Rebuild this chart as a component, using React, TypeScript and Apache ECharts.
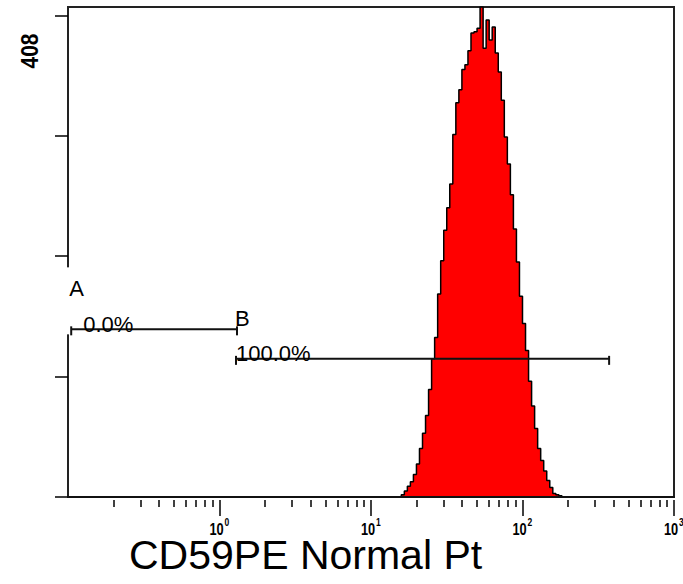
import React, { useEffect, useRef } from 'react';
import * as echarts from 'echarts';

// ---- data ----
const TITLE = 'CD59PE Normal Pt';
const X_MIN_LOG = -1;
const X_MAX_LOG = 3;
const X_MAJOR = [0, 1, 2, 3];
const X_MINOR_MULT = [2, 3, 4, 5, 6, 7, 8, 9];
const X_LABEL_BASE = '10';
const Y_MAX = 415;
const Y_TICKS = [0, 102, 204, 306, 408];
const Y_LABEL = 408;

// histogram: bin centres in log10 units starting at HIST_START, step HIST_STEP
const HIST_START = 1.19;
const HIST_STEP = 0.02;
const COUNTS = [
  0, 2, 5, 9, 13, 19, 28, 41, 54, 69, 91, 117, 135, 172, 200, 226, 245, 265, 307, 334,
  345, 362, 366, 378, 393, 394, 397, 415, 380, 404, 387, 398, 376, 360, 336, 305, 282, 256,
  227, 199, 170, 147, 124, 98, 77, 58, 41, 31, 22, 14, 8, 3, 2, 1, 0,
];

const GATE_NAMES = ['A', 'B'];
const GATE_START = [0.105, 1.285];
const GATE_END = [1.305, 373];
const GATE_LEVEL = [142, 117];
const GATE_PCT = ['0.0%', '100.0%'];

// ---- layout / style (not data) ----
const FONT = "'Liberation Sans', Arial, 'DejaVu Sans', sans-serif";
const GATE_LAYOUT = [
  { nameDx: -2, nameDy: 30, pctDx: 12, borderGap: true },
  { nameDx: -1, nameDy: 29, pctDx: 0, borderGap: false },
];

const X_MINOR: number[] = [];
for (let n = X_MIN_LOG; n < X_MAX_LOG; n++) {
  for (const k of X_MINOR_MULT) X_MINOR.push(n + Math.log10(k));
}

export default function App() {
  const ref = useRef<HTMLDivElement>(null);
  useEffect(() => {
    if (!ref.current) return;
    const chart = echarts.init(ref.current, undefined, { renderer: 'svg' });
    const histData = COUNTS.map((c, i) => [HIST_START + i * HIST_STEP, c]);
    const gateData = GATE_NAMES.map((_, i) => [
      Math.log10(GATE_START[i]),
      Math.log10(GATE_END[i]),
      GATE_LEVEL[i],
    ]);
    const labelData = X_MAJOR.map((v) => [v, 0]);
    const baseX = { type: 'value', min: X_MIN_LOG, max: X_MAX_LOG, position: 'bottom', splitLine: { show: false } };
    chart.setOption({
      animation: false,
      backgroundColor: '#fff',
      title: {
        text: TITLE,
        left: 129,
        top: 534,
        padding: 0,
        textStyle: { fontFamily: FONT, fontSize: 41, fontWeight: 'normal', color: '#000' },
      },
      grid: {
        left: 68,
        right: 9,
        top: 7,
        bottom: 87,
        show: true,
        borderColor: '#222',
        borderWidth: 2,
        backgroundColor: 'transparent',
      },
      xAxis: [
        {
          ...baseX,
          axisLine: { show: true, onZero: false, lineStyle: { color: '#111', width: 2 } },
          axisTick: { show: false },
          axisLabel: { show: false },
          z: 10,
        },
        {
          ...baseX,
          offset: 3,
          axisLine: { show: false, onZero: false },
          axisTick: { show: true, customValues: X_MAJOR, length: 16, lineStyle: { color: '#000', width: 1.5 } },
          axisLabel: { show: false },
        },
        {
          ...baseX,
          offset: 3,
          axisLine: { show: false, onZero: false },
          axisTick: { show: true, customValues: X_MINOR, length: 7, lineStyle: { color: '#000', width: 1.5 } },
          axisLabel: { show: false },
        },
      ],
      yAxis: {
        type: 'value',
        min: 0,
        max: Y_MAX,
        position: 'left',
        axisLine: { show: false, onZero: false },
        axisTick: { show: true, customValues: Y_TICKS, length: 13, lineStyle: { color: '#000', width: 1.5 } },
        axisLabel: { show: false },
        splitLine: { show: false },
      },
      graphic: [
        {
          type: 'text',
          x: 30,
          y: 51,
          rotation: Math.PI / 2,
          scaleX: 0.95,
          scaleY: 1.1,
          style: {
            text: String(Y_LABEL),
            fontFamily: FONT,
            fontSize: 22,
            fontWeight: 'bold',
            fill: '#000',
            align: 'center',
            verticalAlign: 'middle',
          },
        },
      ],
      series: [
        {
          type: 'line',
          xAxisIndex: 0,
          step: 'middle',
          data: histData,
          symbol: 'none',
          lineStyle: { color: '#000', width: 1.5 },
          areaStyle: { color: '#ff0000', opacity: 1 },
          z: 2,
        },
        {
          // log-decade tick labels 10^n
          type: 'custom',
          xAxisIndex: 0,
          z: 6,
          clip: false,
          silent: true,
          data: labelData,
          encode: { x: 0, y: 1 },
          renderItem: (params: any, api: any) => {
            const p = api.coord([api.value(0), api.value(1)]);
            const exp = String(api.value(0));
            return {
              type: 'group',
              children: [
                {
                  type: 'text',
                  x: p[0] - 10,
                  y: p[1] + 24,
                  scaleX: 0.8,
                  style: { text: X_LABEL_BASE, fontFamily: FONT, fontSize: 16, fontWeight: 'bold', fill: '#000', align: 'left', verticalAlign: 'top' },
                },
                {
                  type: 'text',
                  x: p[0] + 5,
                  y: p[1] + 21,
                  scaleX: 0.85,
                  style: { text: exp, fontFamily: FONT, fontSize: 10, fontWeight: 'bold', fill: '#000', align: 'left', verticalAlign: 'top' },
                },
              ],
            };
          },
        },
        {
          type: 'custom',
          xAxisIndex: 0,
          z: 5,
          clip: false,
          data: gateData,
          encode: { x: [0, 1], y: 2 },
          renderItem: (params: any, api: any) => {
            const i = params.dataIndex;
            const p0 = api.coord([api.value(0), api.value(2)]);
            const p1 = api.coord([api.value(1), api.value(2)]);
            const lay = GATE_LAYOUT[i];
            const stroke = { stroke: '#111', lineWidth: 2 };
            const txt = { fontFamily: FONT, fontSize: 22, fill: '#000', align: 'left', verticalAlign: 'bottom' };
            const children: any[] = [];
            if (lay.borderGap) {
              children.push({
                type: 'line',
                shape: { x1: p0[0] - 3, y1: p0[1] - 62, x2: p0[0] - 3, y2: p0[1] + 5 },
                style: { stroke: '#fff', lineWidth: 4 },
              });
            }
            children.push(
              { type: 'line', shape: { x1: p0[0], y1: p0[1], x2: p1[0], y2: p1[1] }, style: stroke },
              { type: 'line', shape: { x1: p0[0], y1: p0[1] - 3, x2: p0[0], y2: p0[1] + 6 }, style: stroke },
              { type: 'line', shape: { x1: p1[0], y1: p1[1] - 3, x2: p1[0], y2: p1[1] + 6 }, style: stroke },
              { type: 'text', x: p0[0] + lay.nameDx, y: p0[1] - lay.nameDy, style: { ...txt, text: GATE_NAMES[i] } },
              { type: 'text', x: p0[0] + lay.pctDx, y: p0[1] + 6, style: { ...txt, text: GATE_PCT[i] } },
            );
            return { type: 'group', children };
          },
        },
      ],
    });
    return () => chart.dispose();
  }, []);
  return <div ref={ref} style={{ position: 'fixed', left: 0, top: 0, width: 683, height: 584 }} />;
}
